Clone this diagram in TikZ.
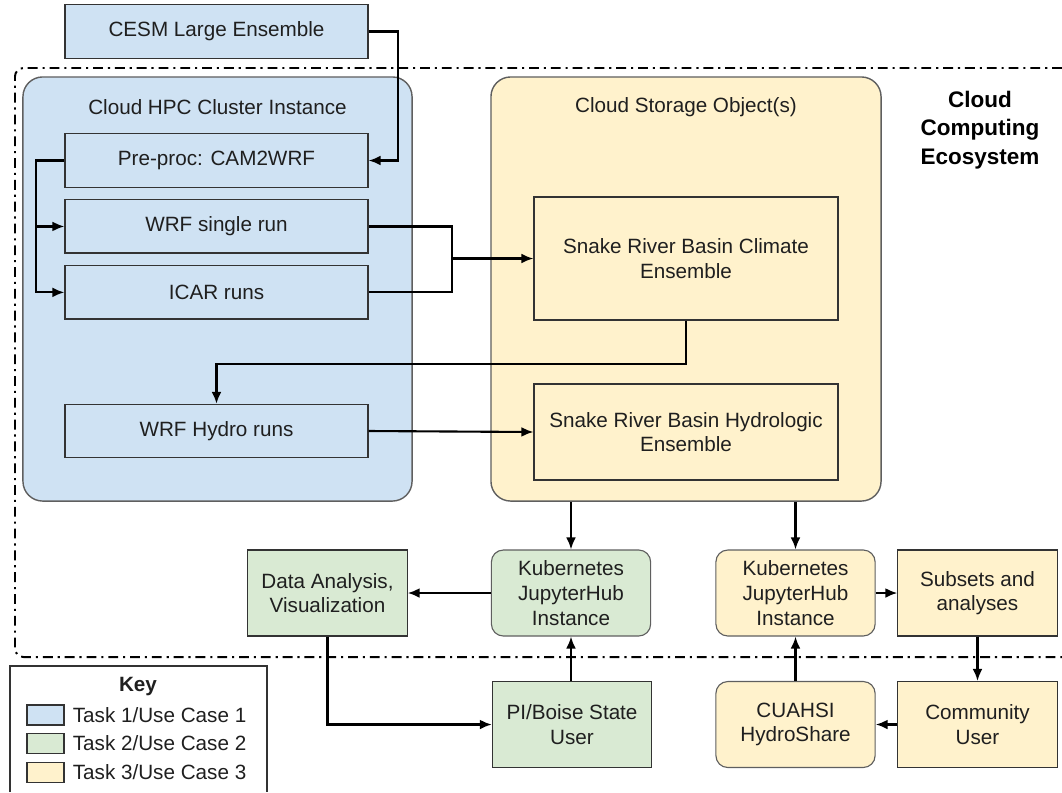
\documentclass[tikz,border=0pt]{standalone}
\usepackage{fontspec}
\setmainfont{Liberation Sans}
\usetikzlibrary{shapes,arrows,arrows.meta,positioning}
\definecolor{taskone}{HTML}{CFE2F3}
\definecolor{tasktwo}{HTML}{D9EAD3}
\definecolor{taskthree}{HTML}{FFF2CC}
\definecolor{edgegray}{HTML}{5F5F5F}

\begin{document}
\begin{tikzpicture}[x=0.025cm,y=-0.025cm]
\tikzset{
base/.style={draw=black!80, line width=0.8pt, text=black!88, font=\fontsize{14.7}{17.5}\selectfont, align=center, inner sep=0pt},
runbox/.style={base, rectangle, fill=taskone, minimum width=7.575cm, minimum height=1.33cm},
bigbox/.style={rectangle, rounded corners=14pt, draw=edgegray, line width=1pt, minimum width=9.75cm, minimum height=10.6cm},
ensbox/.style={base, rectangle, fill=taskthree, minimum width=7.6cm},
smallbox/.style={base, rectangle, minimum width=3.98cm, minimum height=2.15cm},
roundbox/.style={smallbox, rounded corners=8.5pt, draw=edgegray},
keybox/.style={draw=black!80, line width=0.8pt, minimum width=0.925cm, minimum height=0.5cm, inner sep=0pt},
myarrow/.style={-{Latex[length=8.5pt,width=7pt]}, line width=1.5pt},
myline/.style={line width=1.5pt},
ecoline/.style={line width=1.4pt, dash pattern=on 7pt off 3.5pt on 1.5pt off 3.5pt, rounded corners=6pt},
mylabel/.style={font=\fontsize{14.7}{17.5}\selectfont, text=black!88, inner sep=0pt},
}
\useasboundingbox (0,0) rectangle (1062,792);

% ecosystem border
\draw[ecoline] (1062,68) -- (15,68) -- (15,657) -- (1062,657);
\node[font=\bfseries\fontsize{16}{20.2}\selectfont, align=center] (eco) at (980,130) {Cloud\\Computing\\Ecosystem};

% containers
\node[bigbox, fill=taskone, minimum width=9.725cm] (hpc) at (217.5,289) {};
\node[bigbox, fill=taskthree] (storage) at (686,289) {};
\node[mylabel] (hpctitle) at (217.5,107) {Cloud HPC Cluster Instance};
\node[mylabel] (storagetitle) at (686,107) {Cloud Storage Object(s)};

% task 1 runs
\node[runbox] (cesm) at (216.5,31.5) {CESM Large Ensemble};
\node[runbox] (preproc) at (216.5,160.5) {Pre-proc: CAM2WRF};
\node[runbox, below=0.29cm of preproc] (wrfsingle) {WRF single run};
\node[runbox, below=0.29cm of wrfsingle] (icar) {ICAR runs};
\node[runbox] (wrfhydro) at (216.5,431) {WRF Hydro runs};

% ensembles
\node[ensbox, minimum height=3.075cm] (climate) at (686,258.5) {Snake River Basin Climate\\Ensemble};
\node[ensbox, minimum height=2.4cm] (hydroens) at (686,432) {Snake River Basin Hydrologic\\Ensemble};

% users and hubs
\node[smallbox, fill=tasktwo] (analysis) at (327.5,593) {Data Analysis,\\Visualization};
\node[roundbox, fill=tasktwo] (kubegreen) at (571,593) {Kubernetes\\JupyterHub\\Instance};
\node[roundbox, fill=taskthree] (kubeyellow) at (795.5,593) {Kubernetes\\JupyterHub\\Instance};
\node[smallbox, fill=taskthree] (subsets) at (977.5,593) {Subsets and\\analyses};
\node[smallbox, fill=tasktwo] (piuser) at (572,724.5) {PI/Boise State\\User};
\node[roundbox, fill=taskthree] (hydroshare) at (795.5,724.5) {CUAHSI\\HydroShare};
\node[smallbox, fill=taskthree] (community) at (977.5,724.5) {Community\\User};

% key
\draw[draw=black!80, line width=0.8pt] (10,792) |- (267,666) -- (267,792);
\node[mylabel, font=\bfseries\fontsize{14.7}{17.5}\selectfont] (keytitle) at (138,687) {Key};
\node[keybox, fill=taskone] (keyone) at (45.5,715) {};
\node[keybox, fill=tasktwo] (keytwo) at (45.5,743.5) {};
\node[keybox, fill=taskthree] (keythree) at (45.5,772.5) {};
\node[mylabel, right=0.2cm of keyone] (keyonetext) {Task 1/Use Case 1};
\node[mylabel, right=0.2cm of keytwo] (keytwotext) {Task 2/Use Case 2};
\node[mylabel, right=0.2cm of keythree] (keythreetext) {Task 3/Use Case 3};

% connectors
\coordinate (merge) at (452,258.5);
\draw[myarrow] (cesm.east) -- ++(29,0) |- (preproc.east);
\draw[myarrow] (preproc.west) -- ++(-28,0) |- (wrfsingle.west);
\draw[myarrow] (preproc.west) -- ++(-28,0) |- (icar.west);
\draw[myline] (wrfsingle.east) -| (merge) |- (icar.east);
\draw[myarrow] (merge) -- (climate.west);
\draw[myarrow] (climate.south) -- ++(0,43) -| (wrfhydro.north);
\draw[myarrow] (wrfhydro.east) -- (hydroens.west);
\draw[myarrow] (storage.south -| kubegreen) -- (kubegreen.north);
\draw[myarrow] (storage.south -| kubeyellow) -- (kubeyellow.north);
\draw[myarrow] (kubegreen.west) -- (analysis.east);
\draw[myarrow] (kubeyellow.east) -- (subsets.west);
\draw[myarrow] (subsets.south) -- (community.north);
\draw[myarrow] (community.west) -- (hydroshare.east);
\draw[myarrow] (hydroshare.north) -- (kubeyellow.south);
\draw[myarrow] (piuser.north -| kubegreen) -- (kubegreen.south);
\draw[myarrow] (analysis.south) |- (piuser.west);
\end{tikzpicture}
\end{document}
